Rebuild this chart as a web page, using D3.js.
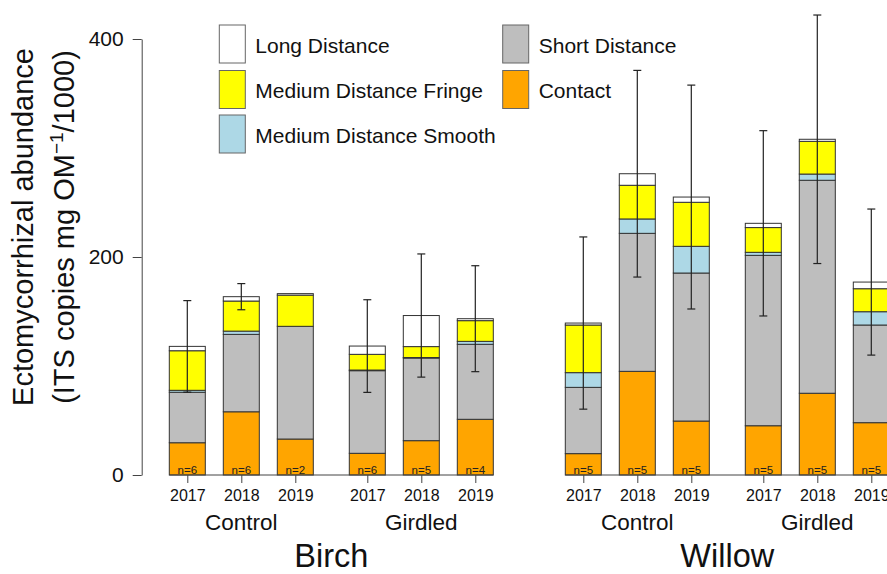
<!DOCTYPE html>
<html>
<head>
<meta charset="utf-8">
<script src="https://cdn.jsdelivr.net/npm/d3@7"></script>
<style>
  body { margin: 0; background: #fff; }
  svg { display: block; font-family: "Liberation Sans", Arial, sans-serif; }
</style>
</head>
<body>
<svg width="887" height="574"></svg>
<script>
"use strict";

// data, bars in order Birch (Control 17-19, Girdled 17-19), Willow (same)
var species = ["Birch", "Willow"];
var treatments = ["Control", "Girdled"];
var years = ["2017", "2018", "2019"];
var contact = [29.6, 58, 33, 19.9, 31.5, 51.1, 19.6, 95.1, 49.5, 45.2, 75, 48];
var shortDist = [46.3, 71, 103.4, 75.8, 75.8, 68.8, 60.8, 126.6, 135.8, 156.3, 195.4, 89.6];
var smooth = [1.8, 3, 0, 0.6, 0.5, 2.7, 13.5, 13.2, 24.5, 2.8, 5.7, 12.2];
var fringe = [36.3, 27.6, 28.6, 14.4, 10, 19, 43.7, 30.9, 40.4, 22.7, 30, 21.1];
var longDist = [4, 4, 1.4, 7.6, 28.5, 1.8, 1.8, 10.6, 4.8, 3.9, 1.9, 6.1];
var errors = [42, 12, null, 42.5, 56.5, 48.6, 79, 94.8, 102.7, 85, 114, 67];
var nSamples = [6, 6, 2, 6, 5, 4, 5, 5, 5, 5, 5, 5];

var keys = ["contact", "shortDist", "smooth", "fringe", "longDist"];
var colors = {
  contact: "#FFA500", shortDist: "#BEBEBE", smooth: "#ADD8E6",
  fringe: "#FFFF00", longDist: "#FFFFFF"
};
var legendItems = [
  { key: "longDist", label: "Long Distance", col: 0, row: 0 },
  { key: "fringe", label: "Medium Distance Fringe", col: 0, row: 1 },
  { key: "smooth", label: "Medium Distance Smooth", col: 0, row: 2 },
  { key: "shortDist", label: "Short Distance", col: 1, row: 0 },
  { key: "contact", label: "Contact", col: 1, row: 1 }
];

// bar slots in units: width 1, space 0.5 in a group, 1 between groups, 2 between species
var rows = contact.map(function (d, i) {
  var s = Math.floor(i / 6), g = Math.floor((i % 6) / 3), j = i % 3;
  return {
    i: i, species: s, group: g, year: years[j],
    pos: s * 11 + g * 5 + j * 1.5,
    contact: contact[i], shortDist: shortDist[i], smooth: smooth[i],
    fringe: fringe[i], longDist: longDist[i],
    err: errors[i], n: nSamples[i]
  };
});
rows.forEach(function (d) {
  d.total = keys.reduce(function (a, k) { return a + d[k]; }, 0);
});

var svg = d3.select("svg");
var x = d3.scaleLinear().domain([0, 20]).range([169.3, 889.3]);
var y = d3.scaleLinear().domain([0, 400]).range([475, 39]);
var bw = x(1) - x(0);

// stacked bars
var series = d3.stack().keys(keys)(rows);
svg.append("g")
  .selectAll("g")
  .data(series)
  .enter().append("g")
  .attr("fill", function (d) { return colors[d.key]; })
  .selectAll("rect")
  .data(function (d) { return d; })
  .enter().append("rect")
  .attr("x", function (d) { return x(d.data.pos); })
  .attr("width", bw)
  .attr("y", function (d) { return y(d[1]); })
  .attr("height", function (d) { return y(d[0]) - y(d[1]); })
  .attr("stroke", "#333")
  .attr("stroke-width", 1);

// error bars
var eb = svg.append("g")
  .attr("stroke", "#222")
  .attr("stroke-width", 1.2)
  .selectAll("g")
  .data(rows.filter(function (d) { return d.err != null; }))
  .enter().append("g");
eb.append("line")
  .attr("x1", function (d) { return x(d.pos + 0.5); })
  .attr("x2", function (d) { return x(d.pos + 0.5); })
  .attr("y1", function (d) { return y(d.total - d.err); })
  .attr("y2", function (d) { return y(d.total + d.err); });
[-1, 1].forEach(function (sgn) {
  eb.append("line")
    .attr("x1", function (d) { return x(d.pos + 0.5) - 4; })
    .attr("x2", function (d) { return x(d.pos + 0.5) + 4; })
    .attr("y1", function (d) { return y(d.total + sgn * d.err); })
    .attr("y2", function (d) { return y(d.total + sgn * d.err); });
});

// n labels
svg.append("g")
  .selectAll("text")
  .data(rows)
  .enter().append("text")
  .attr("x", function (d) { return x(d.pos + 0.5); })
  .attr("y", 473.5)
  .attr("text-anchor", "middle")
  .attr("font-size", 11.5)
  .attr("fill", "#222")
  .text(function (d) { return "n=" + d.n; });

// y axis
var yAxis = svg.append("g")
  .attr("transform", "translate(141.7,0)")
  .call(d3.axisLeft(y).tickValues([0, 200, 400]).tickSize(9).tickSizeOuter(0).tickPadding(9));
yAxis.selectAll("text").attr("font-size", 21).attr("fill", "#111").attr("font-family", null);
yAxis.selectAll("path, line").attr("stroke", "#444");

// x axes, one per species
species.forEach(function (name, s) {
  var sub = rows.filter(function (d) { return d.species === s; });
  var g = svg.append("g").attr("transform", "translate(0,475)");
  g.call(d3.axisBottom(x)
    .tickValues(sub.map(function (d) { return d.pos + 0.5; }))
    .tickFormat(function (v, i) { return sub[i].year; })
    .tickSize(8).tickPadding(7).tickSizeOuter(0));
  g.select(".domain").remove();
  g.selectAll("text").attr("font-size", 16).attr("fill", "#111").attr("font-family", null);
  g.selectAll("line").attr("stroke", "#444");
  g.append("line")
    .attr("x1", x(s * 11)).attr("x2", x(s * 11 + 9))
    .attr("stroke", "#444");

  treatments.forEach(function (t, gi) {
    svg.append("text")
      .attr("x", x(s * 11 + gi * 5 + 2))
      .attr("y", 530)
      .attr("text-anchor", "middle")
      .attr("font-size", 22.5)
      .attr("fill", "#111")
      .text(t);
  });
  svg.append("text")
    .attr("x", x(s * 11 + 4.5))
    .attr("y", 567)
    .attr("text-anchor", "middle")
    .attr("font-size", 32.5)
    .attr("fill", "#111")
    .text(name);
});

// y title
var yt = svg.append("g").attr("fill", "#111").attr("font-size", 29).attr("text-anchor", "middle");
yt.append("text")
  .attr("transform", "translate(33,227) rotate(-90)")
  .text("Ectomycorrhizal abundance");
var t2 = yt.append("text")
  .attr("transform", "translate(74,227) rotate(-90)");
t2.append("tspan").text("(ITS copies mg OM");
t2.append("tspan").attr("font-size", 19).attr("dy", -11).text("\u22121");
t2.append("tspan").attr("dy", 11).text("/1000)");

// legend
var legX = [219.3, 502.7], legY = [25, 70.5, 115];
var leg = svg.append("g")
  .selectAll("g")
  .data(legendItems)
  .enter().append("g")
  .attr("transform", function (d) { return "translate(" + legX[d.col] + "," + legY[d.row] + ")"; });
leg.append("rect")
  .attr("width", 26).attr("height", 38)
  .attr("fill", function (d) { return colors[d.key]; })
  .attr("stroke", "#666");
leg.append("text")
  .attr("x", 36).attr("y", 27.5)
  .attr("font-size", 21)
  .attr("fill", "#111")
  .text(function (d) { return d.label; });
</script>
</body>
</html>
